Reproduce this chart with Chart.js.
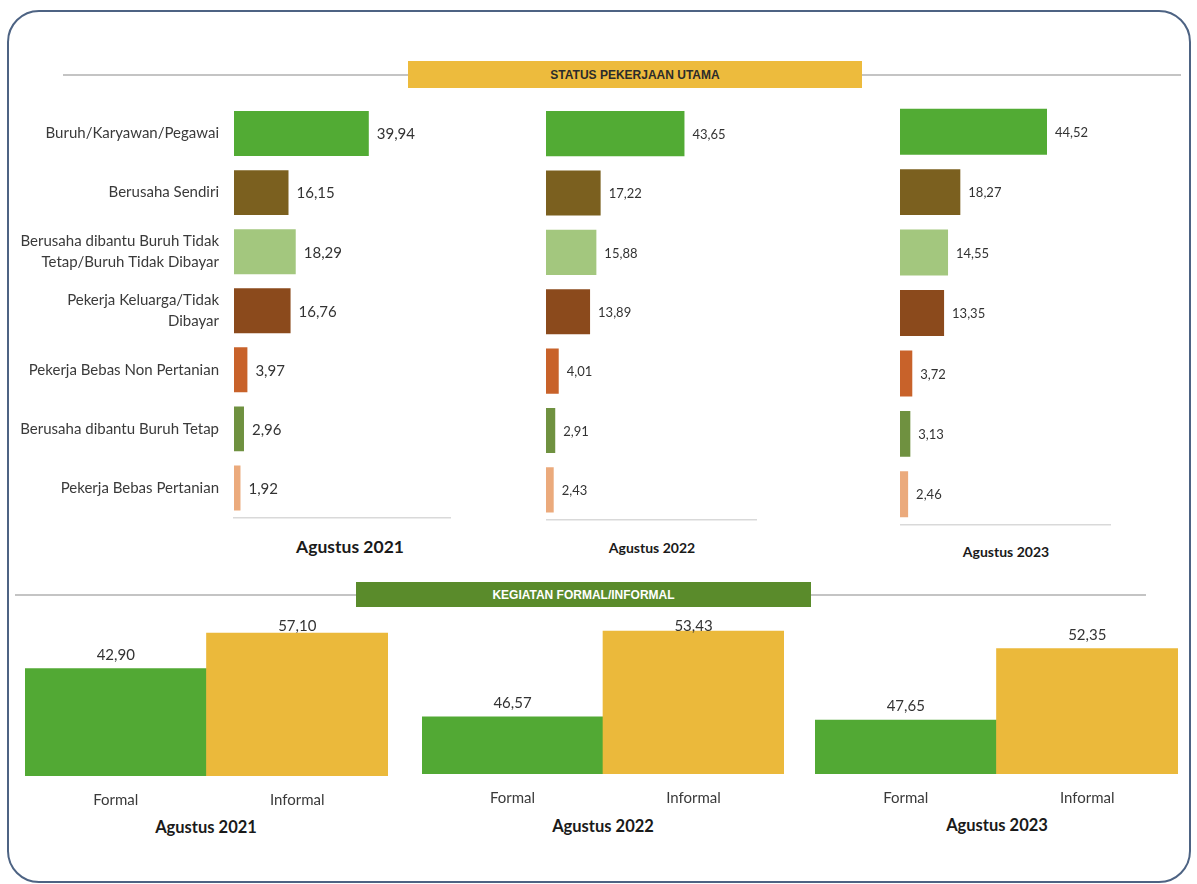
<!DOCTYPE html>
<html>
<head>
<meta charset="utf-8">
<script src="https://cdn.jsdelivr.net/npm/chart.js@4.4.1/dist/chart.umd.min.js"></script>
<style>
  html, body { margin:0; padding:0; background:#ffffff; }
  body { width:1197px; height:884px; position:relative; overflow:hidden; font-family:Lato, "Open Sans", sans-serif; }
  .frame { position:absolute; left:7px; top:10px; width:1180px; height:869px; border:2px solid #4D6383; border-radius:32px; }
  .hline { position:absolute; height:2px; background:#C4C4C4; }
  .hbox { position:absolute; font-family:"Liberation Sans Narrow","Liberation Sans",Arial,sans-serif; font-weight:bold; font-size:12px; display:flex; align-items:center; justify-content:center; }
  canvas { position:absolute; }
  .title { position:absolute; transform:translate(-50%,-50%); font-weight:bold; color:#1a1a1a; white-space:nowrap; font-family:Lato, sans-serif; }
</style>
</head>
<body>
<div class="frame"></div>

<div class="hline" style="left:63px; top:74px; width:1118px;"></div>
<div class="hbox" style="left:408px; top:61px; width:454px; height:27px; background:#EDBB3D; color:#2b2b2b;">STATUS PEKERJAAN UTAMA</div>

<div class="hline" style="left:15px; top:594px; width:1131px;"></div>

<canvas id="s2021"></canvas>
<canvas id="s2022"></canvas>
<canvas id="s2023"></canvas>
<canvas id="f2021"></canvas>
<canvas id="f2022"></canvas>
<canvas id="f2023"></canvas>

<div class="hbox" style="left:356px; top:582px; width:455px; height:25px; background:#5A8B2B; color:#ffffff;">KEGIATAN FORMAL/INFORMAL</div>

<div class="title" style="left:350px; top:546px; font-size:17.5px;" id="t1"></div>
<div class="title" style="left:652px; top:547px; font-size:14px;" id="t2"></div>
<div class="title" style="left:1006px; top:551px; font-size:14px;" id="t3"></div>
<div class="title" style="left:206px; top:827px; font-size:16.5px;" id="b1"></div>
<div class="title" style="left:603px; top:826px; font-size:16.5px;" id="b2"></div>
<div class="title" style="left:997px; top:825px; font-size:16.5px;" id="b3"></div>

<script>
// ---------- DATA ----------
const periodLabels = ['Agustus 2021', 'Agustus 2022', 'Agustus 2023'];

const statusCategories = [
  'Buruh/Karyawan/Pegawai',
  'Berusaha Sendiri',
  ['Berusaha dibantu Buruh Tidak', 'Tetap/Buruh Tidak Dibayar'],
  ['Pekerja Keluarga/Tidak', 'Dibayar'],
  'Pekerja Bebas Non Pertanian',
  'Berusaha dibantu Buruh Tetap',
  'Pekerja Bebas Pertanian'
];
const status2021 = [39.94, 16.15, 18.29, 16.76, 3.97, 2.96, 1.92];
const status2022 = [43.65, 17.22, 15.88, 13.89, 4.01, 2.91, 2.43];
const status2023 = [44.52, 18.27, 14.55, 13.35, 3.72, 3.13, 2.46];
const statusColors = ['#52AB34', '#7B601F', '#A3C77E', '#8B4A1C', '#C8622A', '#6F9140', '#EBAA7C'];

const formalCategories = ['Formal', 'Informal'];
const formal2021 = [42.90, 57.10];
const formal2022 = [46.57, 53.43];
const formal2023 = [47.65, 52.35];
const formalColors = ['#52A934', '#EBB93B'];

// ---------- HELPERS ----------
Chart.defaults.font.family = 'Lato, "Open Sans", sans-serif';
Chart.defaults.animation = false;
const fmt = v => v.toFixed(2).replace('.', ',');

document.getElementById('t1').textContent = periodLabels[0];
document.getElementById('t2').textContent = periodLabels[1];
document.getElementById('t3').textContent = periodLabels[2];
document.getElementById('b1').textContent = periodLabels[0];
document.getElementById('b2').textContent = periodLabels[1];
document.getElementById('b3').textContent = periodLabels[2];

function place(canvas, left, top, width, height) {
  canvas.width = width; canvas.height = height;
  canvas.style.left = left + 'px'; canvas.style.top = top + 'px';
  canvas.style.width = width + 'px'; canvas.style.height = height + 'px';
}

const hLabelPlugin = {
  id: 'hLabels',
  afterDatasetsDraw(chart, args, opts) {
    const ctx = chart.ctx;
    const meta = chart.getDatasetMeta(0);
    const data = chart.data.datasets[0].data;
    ctx.save();
    ctx.font = opts.font;
    ctx.fillStyle = '#333333';
    ctx.textBaseline = 'middle';
    ctx.textAlign = 'left';
    meta.data.forEach((bar, i) => {
      ctx.fillText(fmt(data[i]), bar.x + 8, bar.y + 1);
    });
    ctx.restore();
  }
};

const vLabelPlugin = {
  id: 'vLabels',
  afterDatasetsDraw(chart) {
    const ctx = chart.ctx;
    const meta = chart.getDatasetMeta(0);
    const data = chart.data.datasets[0].data;
    ctx.save();
    ctx.font = '15px Lato, "Open Sans", sans-serif';
    ctx.fillStyle = '#333333';
    ctx.textBaseline = 'bottom';
    ctx.textAlign = 'center';
    meta.data.forEach((bar, i) => {
      const y = Math.max(bar.y - 6, chart.chartArea.top + 15);
      ctx.fillText(fmt(data[i]), bar.x, y);
    });
    ctx.restore();
  }
};

function makeStatus(id, values, g) {
  const cv = document.getElementById(id);
  place(cv, g.left, g.top, g.width, g.height);
  const yAxis = g.showLabels ? {
    position: 'left',
    grid: { display: false, drawTicks: false },
    border: { display: false },
    ticks: { color: '#3a3a3a', padding: 15, font: { size: 15, lineHeight: 1.4 }, autoSkip: false },
    afterFit(s) { s.width = g.areaLeft - g.left; s.paddingTop = 0; s.paddingBottom = 0; }
  } : { display: false };
  new Chart(cv, {
    type: 'bar',
    data: {
      labels: statusCategories,
      datasets: [{ data: values, backgroundColor: statusColors, borderWidth: 0,
                   categoryPercentage: 1, barPercentage: 0.76 }]
    },
    options: {
      indexAxis: 'y',
      responsive: false,
      layout: { padding: {
        top: g.areaTop - g.top,
        right: g.left + g.width - g.areaRight,
        bottom: g.top + g.height - g.areaBottom - 2,
        left: g.showLabels ? 0 : g.areaLeft - g.left
      } },
      plugins: { legend: { display: false }, tooltip: { enabled: false }, hLabels: { font: g.labelFont } },
      scales: {
        x: {
          min: 0, max: g.xMax,
          grid: { display: false, drawTicks: false },
          ticks: { display: false },
          border: { display: true, color: '#D9D9D9', width: 1.5 },
          afterFit(s) { s.height = 2; s.paddingLeft = 0; s.paddingRight = 0; }
        },
        y: yAxis
      }
    },
    plugins: [hLabelPlugin]
  });
}

function makeFormal(id, values, g) {
  const cv = document.getElementById(id);
  const top = 590, axisH = 34;
  const height = g.areaBottom - top + axisH;
  place(cv, g.areaLeft, top, g.areaRight - g.areaLeft, height);
  new Chart(cv, {
    type: 'bar',
    data: {
      labels: formalCategories,
      datasets: [{ data: values, backgroundColor: formalColors, borderWidth: 0,
                   categoryPercentage: 1, barPercentage: 1 }]
    },
    options: {
      responsive: false,
      layout: { padding: { top: 619 - top, left: 0, right: 0, bottom: 0 } },
      plugins: { legend: { display: false }, tooltip: { enabled: false } },
      scales: {
        y: { display: false, min: g.yMin, max: g.yMax },
        x: {
          grid: { display: false, drawTicks: false },
          border: { display: false },
          ticks: { color: '#3a3a3a', padding: 15, font: { size: 15 } },
          afterFit(s) { s.height = axisH; s.paddingLeft = 0; s.paddingRight = 0; }
        }
      }
    },
    plugins: [vLabelPlugin]
  });
}

makeStatus('s2021', status2021, { left: 0, top: 90, width: 460, height: 440, areaLeft: 234, areaRight: 450, areaTop: 104, areaBottom: 517.5, xMax: 64, showLabels: true, labelFont: '15px Lato, sans-serif' });
makeStatus('s2022', status2022, { left: 546, top: 90, width: 220, height: 440, areaLeft: 546, areaRight: 756, areaTop: 104, areaBottom: 519.5, xMax: 66.2, showLabels: false, labelFont: '13px Lato, sans-serif' });
makeStatus('s2023', status2023, { left: 900, top: 90, width: 220, height: 445, areaLeft: 900, areaRight: 1110, areaTop: 101.5, areaBottom: 524.5, xMax: 63.6, showLabels: false, labelFont: '13px Lato, sans-serif' });

makeFormal('f2021', formal2021, { areaLeft: 25, areaRight: 388, areaBottom: 776, yMin: 0, yMax: 62.7 });
makeFormal('f2022', formal2022, { areaLeft: 422, areaRight: 784, areaBottom: 774, yMin: 42.0, yMax: 54.4 });
makeFormal('f2023', formal2023, { areaLeft: 815, areaRight: 1178, areaBottom: 774, yMin: 44.1, yMax: 54.3 });
</script>
</body>
</html>
